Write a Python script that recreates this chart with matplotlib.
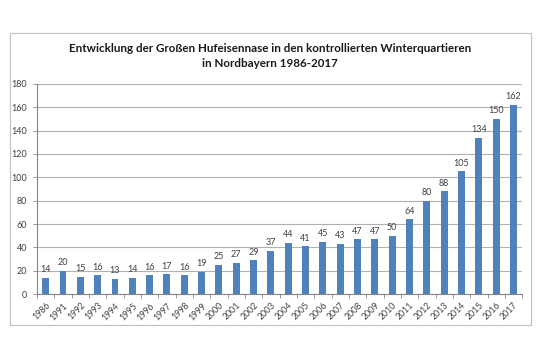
import numpy as np
import matplotlib
matplotlib.use("Agg")
import matplotlib.pyplot as plt
from matplotlib.patches import Rectangle

# Winterquartier-Zaehlungen
years = ["1986", "1991", "1992", "1993", "1994", "1995", "1996", "1997",
         "1998", "1999", "2000", "2001", "2002", "2003", "2004", "2005",
         "2006", "2007", "2008", "2009", "2010", "2011", "2012", "2013",
         "2014", "2015", "2016", "2017"]
counts = [14, 20, 15, 16, 13, 14, 16, 17, 16, 19, 25, 27, 29, 37, 44, 41,
          45, 43, 47, 47, 50, 64, 80, 88, 105, 134, 150, 162]
y_ticks = [0, 20, 40, 60, 80, 100, 120, 140, 160, 180]

title = ("Entwicklung der Großen Hufeisennase in den kontrollierten Winterquartieren\n"
         "in Nordbayern 1986-2017")

plt.rcParams['font.family'] = ['Lato', 'DejaVu Sans']

fig = plt.figure(figsize=(5.4, 3.6), dpi=100)
ax = fig.add_axes([0.0685, 0.183, 0.8985, 0.584])

# chart frame like Excel
fig.patches.append(Rectangle((10/540, 1-325/360), 521/540, 292/360,
                             transform=fig.transFigure, fill=False,
                             edgecolor="#bfbfbf", linewidth=0.8))

x = np.arange(len(years))
bars = ax.bar(x, counts, width=0.4, color="#4f81bd", zorder=3)

for xi, v in zip(x, counts):
    ax.text(xi, v + 3, str(v), ha="center", va="bottom", fontsize=6.5,
            color="#404040")

ax.set_ylim(0, 180)
ax.set_xlim(-0.5, len(years) - 0.5)
ax.set_yticks(y_ticks)
ax.tick_params(axis="y", labelsize=6.5, length=3, width=0.6, color="#868686",
               labelcolor="#404040", pad=4)
ax.grid(axis="y", color="#b0b0b0", linewidth=0.8, zorder=0)

ax.set_xticks(x)
ax.set_xticklabels(years, rotation=45, ha="right", rotation_mode="anchor",
                   fontsize=6.3, color="#404040")
ax.tick_params(axis="x", length=0, pad=5)
ax.set_xticks(np.arange(-0.5, len(years), 1.0), minor=True)
ax.tick_params(axis="x", which="minor", length=3, width=0.6, color="#868686")

for s in ["top", "right"]:
    ax.spines[s].set_visible(False)
ax.spines["left"].set_color("#868686")
ax.spines["bottom"].set_color("#868686")
ax.spines["left"].set_linewidth(0.8)
ax.spines["bottom"].set_linewidth(0.8)

fig.text(0.5, 1 - 56/360, title, ha="center", va="center", fontsize=8.4,
         fontweight="bold", color="#1a1a1a", linespacing=1.45)

fig.savefig("out.png", dpi=100)
